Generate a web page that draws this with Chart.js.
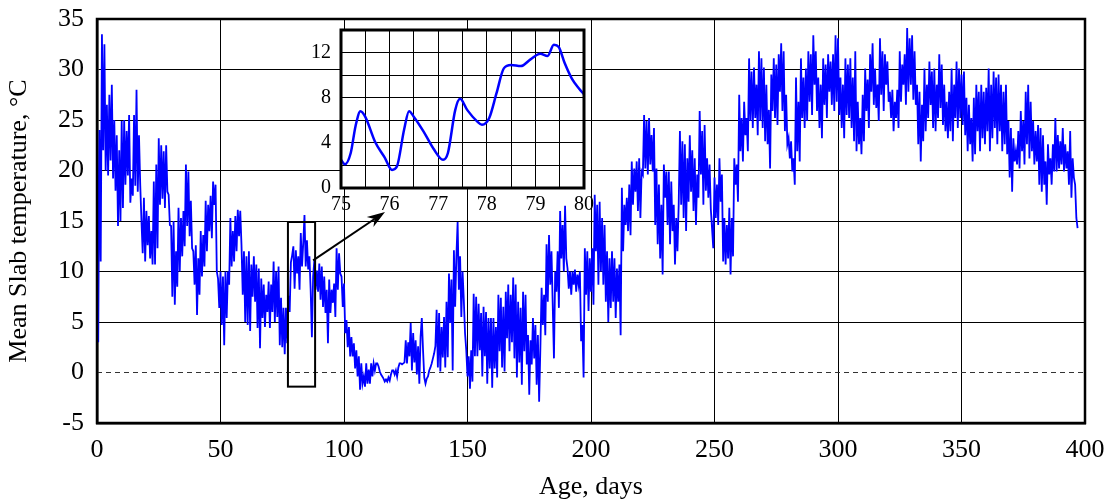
<!DOCTYPE html>
<html>
<head>
<meta charset="utf-8">
<script src="https://cdn.jsdelivr.net/npm/chart.js@4.4.1/dist/chart.umd.min.js"></script>
<style>
  html, body { margin: 0; padding: 0; background: #fff; }
  #wrap { position: relative; width: 1104px; height: 503px; }
  #main { position: absolute; left: 0; top: 0; }
  #inset { position: absolute; left: 290px; top: 24px; }
</style>
</head>
<body>
<div id="wrap">
  <canvas id="main" width="1104" height="503"></canvas>
  <canvas id="inset" width="310" height="200"></canvas>
</div>
<script>
// mean slab temperature, one reading every half day from day 0
var startDay = 0;
var sampleStep = 0.5;
var tempC = [
  27, 3, 24, 11, 33.5, 22, 32.5, 20, 26.5, 19.5,
  27.5, 21, 28.5, 19.2, 25, 18, 23.5, 14.5, 22, 15,
  24.9, 16.3, 25, 18.6, 23.9, 19.5, 25.5, 16.8, 19.2, 17.5,
  25.5, 18.5, 28, 17.9, 23.5, 18.6, 15, 11.8, 17.3, 11,
  16, 12.6, 15.5, 11.3, 14, 10.7, 18.9, 10.7, 20.6, 12.3,
  23.2, 16.6, 22.5, 17.2, 21.9, 16.3, 22.5, 17.9, 17.6, 14.6,
  14.5, 7.5, 15, 6.7, 12, 8.5, 16.3, 10, 15.3, 11.5,
  16, 12.5, 20.6, 14.5, 19.9, 13.5, 17, 12.3, 12, 8.7,
  12.6, 5.7, 11.3, 7.7, 14, 9.5, 13.6, 10.5, 17, 12,
  16.6, 14, 17.5, 13.3, 18.9, 16.6, 18.6, 10, 9.3, 6.4,
  10, 4.7, 9.5, 2.7, 10, 5.4, 10, 8.7, 15.3, 10.5,
  14, 11, 15.5, 12, 16.1, 13.5, 16, 12.6, 7.7, 12,
  5, 11.5, 4.7, 12, 4.1, 10.7, 7.5, 11.5, 7, 10.7,
  4.4, 10.3, 2.4, 9.3, 5.4, 8.7, 4.5, 7.7, 6, 9,
  4.4, 8.7, 6, 11, 5, 10, 5.5, 10.5, 2.7, 7.4,
  2.5, 6.4, 1.8, 6.4, 2.9, 7.6, 6, 10.9, 11.6, 12.5,
  8.3, 12.1, 9.8, 11.5, 8.2, 13.8, 10.5, 12.8, 15.6, 10.5,
  13.1, 10.2, 11.5, 8.2, 3.5, 9.5, 11.1, 8.2, 10.1, 8,
  10.8, 7.2, 10.5, 6.5, 9.5, 5.9, 8.2, 2.9, 9.2, 5.9,
  8.2, 6.9, 8.8, 5.5, 12.3, 8.2, 11.8, 9.8, 9.5, 6.5,
  8.8, 3.9, 5.2, 2.5, 4.5, 1.6, 3.5, 1.6, 2.9, 0.4,
  2.2, -0.4, 1.6, -1.7, 0.9, -1.1, -0.4, -1.4, 0.9, -1.1,
  0.3, -1.1, 0.9, -0.4, 0.9, 0.2, 0.9, 0.9, 0.6, 0.1,
  -0.2, -0.4, -0.6, -0.9, -0.7, -0.9, -0.5, -0.8, -0.2, 0.2,
  0.2, -0.2, 0.2, -0.4, 0.5, 0.9, 0.9, 0.8, 0.9, 1.0,
  3.2, 0.9, 3.0, 1.6, 4.9, 0.2, 3.9, 1.0, 3.2, -0.2,
  2.6, -1.1, 3.5, 5.4, 2.2, -0.5, -1.1, -0.6, -0.4, 0.2,
  0.5, 0.9, 1.4, 1.9, 2.6, 6.2, 0.5, 5.9, 0.1, 4.5,
  1.5, 5.5, 0.5, 7.0, 1.5, 9.8, 4.9, 9.2, 0.2, 12.1,
  6.5, 11.5, 14.9, 8.2, 11.5, 5.5, 10.0, 7.2, 3.9, 2.2,
  -0.4, 1.6, -1.6, 2.2, -0.9, 7.8, 1.6, 7.5, 1.6, 6.8,
  2.2, 5.9, -0.4, 6.5, 1.6, 6.0, -1.1, 5.4, 0.4, 5.4,
  -1.5, 5.4, 0.4, 4.5, -0.5, 7.7, 2.1, 7.4, 0.5, 6.5,
  0.1, 8.0, 3.4, 8.7, 2.1, 7.7, 3.0, 9.4, 1.4, 8.7,
  -0.5, 7.0, 1.0, 6.4, -1.2, 8.0, 2.1, 7.7, 0.8, 3.7,
  -2.2, 3.2, 0.8, 5.4, 1.4, 4.7, -1.2, 3.7, -2.9, 2.4,
  8.4, 4.7, 7.7, 3.7, 12.7, 7.0, 13.6, 8.7, 12.0, 6.7,
  1.4, 10.0, 8.0, 12.0, 6.4, 16.0, 11.3, 14.6, 10.0, 16.5,
  11.3, 10.3, 8.3, 10.0, 7.7, 10.0, 8.7, 10.2, 8.0, 9.7,
  8.7, 10.0, 3.1, 4.7, -0.5, 12.3, 7.7, 12.0, 6.1, 11.3,
  8.0, 12.3, 6.7, 17.6, 12.0, 16.6, 8.7, 16.9, 10.0, 15.3,
  8.7, 14.6, 7.0, 12.0, 5.0, 11.3, 6.4, 12.0, 7.0, 11.3,
  5.4, 10.3, 7.0, 10.7, 3.7, 18.3, 12.0, 16.6, 14.6, 17.3,
  14.0, 18.6, 13.6, 20.9, 16.6, 20.2, 17.9, 20.9, 16.0, 21.2,
  15.3, 19.9, 19.6, 25.5, 20.2, 24.9, 19.6, 25.2, 20.6, 23.5,
  19.9, 24.2, 14.6, 20.2, 12.7, 18.6, 11.3, 16.6, 9.7, 20.6,
  17.3, 19.9, 14.6, 19.9, 12.7, 18.9, 14.0, 16.6, 10.7, 15.3,
  12.0, 16.6, 23.9, 16.6, 22.9, 15.3, 22.6, 14.0, 21.2, 16.9,
  23.5, 17.9, 22.0, 16.0, 21.2, 14.6, 19.6, 17.3, 25.9, 19.6,
  23.9, 16.6, 24.5, 18.0, 21.2, 17.3, 20.6, 16.2, 14.3, 12.3,
  19.3, 15.3, 18.6, 14.6, 21.2, 16.9, 19.6, 11.0, 15.3, 10.7,
  14.6, 11.3, 16.3, 9.7, 15.3, 11.5, 21.2, 18.6, 20.6, 16.9,
  27.5, 21.9, 25.2, 20.9, 26.8, 23.5, 25.2, 21.9, 31.1, 24.9,
  29.8, 24.2, 30.2, 25.2, 28.5, 23.5, 31.8, 24.9, 31.1, 24.2,
  30.2, 22.9, 28.5, 22.6, 26.0, 20.2, 29.5, 25.9, 31.1, 25.2,
  30.5, 24.5, 31.5, 27.8, 32.6, 25.9, 31.8, 23.9, 27.5, 22.6,
  23.2, 21.2, 22.9, 19.9, 21.2, 18.6, 29.2, 21.9, 26.8, 20.9,
  31.1, 25.2, 29.2, 24.2, 30.1, 24.9, 31.8, 26.8, 31.5, 25.5,
  33.4, 28.5, 31.8, 25.9, 29.2, 24.2, 28.5, 23.2, 31.1, 26.5,
  30.5, 25.2, 31.5, 27.8, 30.8, 26.5, 31.5, 25.9, 33.4, 26.8,
  33.1, 25.5, 29.2, 24.2, 28.5, 23.2, 31.1, 25.5, 30.5, 25.2,
  31.1, 24.2, 29.2, 22.9, 31.8, 21.9, 26.8, 22.6, 25.2, 21.6,
  27.5, 22.9, 30.1, 25.9, 29.0, 24.2, 31.5, 27.8, 32.6, 26.5,
  30.1, 26.2, 28.5, 24.9, 33.1, 27.5, 31.8, 25.9, 31.5, 28.5,
  30.8, 26.8, 27.8, 25.2, 28.0, 23.9, 26.8, 25.2, 28.0, 24.2,
  31.8, 26.8, 30.5, 28.5, 31.5, 26.5, 34.1, 27.8, 33.1, 28.5,
  33.4, 27.0, 31.8, 26.5, 28.5, 22.6, 27.8, 20.9, 26.5, 22.9,
  30.1, 23.9, 28.5, 25.2, 30.8, 26.5, 29.8, 24.2, 30.1, 23.9,
  28.5, 25.2, 31.5, 26.2, 30.5, 24.5, 28.5, 23.9, 26.8, 23.2,
  27.8, 23.9, 30.1, 22.9, 28.5, 25.2, 30.8, 24.2, 30.1, 25.2,
  29.5, 24.5, 29.8, 23.5, 27.2, 21.9, 26.5, 22.6, 25.2, 20.9,
  27.2, 21.6, 28.5, 23.9, 27.8, 21.9, 28.5, 23.2, 27.8, 22.6,
  28.2, 23.9, 30.1, 21.9, 28.5, 23.2, 29.8, 24.2, 29.2, 22.6,
  29.5, 23.9, 28.5, 21.9, 27.8, 22.6, 28.5, 21.6, 24.9, 19.3,
  24.2, 17.9, 23.2, 20.9, 21.9, 20.6, 23.9, 20.2, 25.9, 21.9,
  24.9, 20.6, 27.8, 22.6, 28.5, 21.2, 26.8, 21.9, 24.9, 20.6,
  23.9, 20.9, 24.5, 18.6, 24.2, 17.9, 23.5, 18.6, 20.9, 16.6,
  22.6, 19.6, 21.2, 18.6, 22.6, 19.9, 25.2, 19.9, 23.5, 20.2,
  22.9, 20.6, 24.2, 19.9, 22.6, 20.2, 21.9, 18.6, 23.9, 17.3,
  21.2, 19.3, 18.6, 15.3, 14.3
];

// zoomed detail, days 75 - 80
var insetDays  = [75, 75.08, 75.2, 75.3, 75.4, 75.5, 75.7, 75.9, 76.05, 76.15, 76.3, 76.4, 76.5, 76.7, 76.9, 77.1, 77.2, 77.35, 77.45, 77.6, 77.8, 77.9, 78.05, 78.2, 78.35, 78.5, 78.7, 78.9, 79.1, 79.25, 79.38, 79.48, 79.6, 79.75, 79.9, 80];
var insetTemps = [2.5, 2.1, 3.1, 5.5, 6.8, 6.3, 4.1, 2.7, 1.6, 1.9, 5.2, 6.8, 6.3, 5.0, 3.5, 2.5, 3.1, 6.9, 7.9, 6.9, 5.9, 5.6, 6.2, 8.4, 10.6, 10.9, 10.8, 11.4, 11.9, 11.7, 12.7, 12.5, 11.1, 9.7, 8.8, 8.3];

// axes
var xMin = 0, xMax = 400, xStep = 50;
var yMin = -5, yMax = 35, yStep = 5;
var insetXMin = 75, insetXMax = 80;
var insetYMin = 0, insetYMax = 14;

// marked window on the main plot and the arrow pointing to the inset (data units)
var zoomBox = { x1: 77.3, x2: 88.3, y1: -1.4, y2: 14.9 };
var arrowFrom = { x: 87.5, y: 11.1 };
var arrowTo = { x: 116.6, y: 15.9 };

var serif = '"Liberation Serif", "Times New Roman", serif';
var blue = 'rgb(0,0,255)';

var mainPoints = tempC.map(function(v, i) {
    return { x: startDay + i * sampleStep, y: v };
});

// keep the plot box where it is, labels may hang over the padding
function noHangX(s) { s.paddingLeft = 0; s.paddingRight = 0; }
function noHangY(s) { s.paddingTop = 0; s.paddingBottom = 0; }

var mainExtras = {
    id: 'mainExtras',
    beforeDatasetsDraw: function(chart) {
        var c = chart.ctx, a = chart.chartArea, y0 = chart.scales.y.getPixelForValue(0);
        c.save();
        c.strokeStyle = '#333';
        c.lineWidth = 1;
        c.setLineDash([5, 4]);
        c.beginPath();
        c.moveTo(a.left, y0);
        c.lineTo(a.right, y0);
        c.stroke();
        c.restore();
    },
    afterDatasetsDraw: function(chart) {
        var c = chart.ctx, a = chart.chartArea, sx = chart.scales.x, sy = chart.scales.y;
        c.save();
        c.strokeStyle = '#000';
        c.lineWidth = 2.5;
        c.strokeRect(a.left, a.top, a.right - a.left, a.bottom - a.top);
        // window rectangle
        var bx1 = sx.getPixelForValue(zoomBox.x1), bx2 = sx.getPixelForValue(zoomBox.x2);
        var by1 = sy.getPixelForValue(zoomBox.y1), by2 = sy.getPixelForValue(zoomBox.y2);
        c.lineWidth = 2;
        c.strokeRect(bx1, by2, bx2 - bx1, by1 - by2);
        // arrow
        var ax = sx.getPixelForValue(arrowFrom.x), ay = sy.getPixelForValue(arrowFrom.y);
        var tx = sx.getPixelForValue(arrowTo.x), ty = sy.getPixelForValue(arrowTo.y);
        var ang = Math.atan2(ty - ay, tx - ax);
        var hl = 18, hw = 6;
        c.lineWidth = 2;
        c.beginPath();
        c.moveTo(ax, ay);
        c.lineTo(tx - Math.cos(ang) * hl * 0.7, ty - Math.sin(ang) * hl * 0.7);
        c.stroke();
        c.fillStyle = '#000';
        c.beginPath();
        c.moveTo(tx, ty);
        c.lineTo(tx - Math.cos(ang) * hl - Math.sin(ang) * hw, ty - Math.sin(ang) * hl + Math.cos(ang) * hw);
        c.lineTo(tx - Math.cos(ang) * hl * 0.7, ty - Math.sin(ang) * hl * 0.7);
        c.lineTo(tx - Math.cos(ang) * hl + Math.sin(ang) * hw, ty - Math.sin(ang) * hl - Math.cos(ang) * hw);
        c.closePath();
        c.fill();
        c.restore();
    }
};

new Chart(document.getElementById('main'), {
    type: 'line',
    data: {
        datasets: [{
            data: mainPoints,
            borderColor: blue,
            borderWidth: 1.8,
            pointRadius: 0,
            tension: 0,
            fill: false
        }]
    },
    options: {
        responsive: false,
        animation: false,
        events: [],
        layout: { padding: { left: 0, top: 19, right: 19, bottom: 0 } },
        plugins: { legend: { display: false }, tooltip: { enabled: false } },
        scales: {
            x: {
                type: 'linear',
                min: xMin,
                max: xMax,
                ticks: { stepSize: xStep, color: '#000', font: { family: serif, size: 26 }, padding: 12, maxRotation: 0 },
                grid: { color: '#000', lineWidth: 1, drawTicks: false },
                border: { color: '#000', width: 2.5 },
                title: { display: true, text: 'Age, days', color: '#000', font: { family: serif, size: 26 }, padding: { top: 0, bottom: 0 } },
                afterFit: function(s) { s.height = 80; noHangX(s); }
            },
            y: {
                min: yMin,
                max: yMax,
                ticks: { stepSize: yStep, color: '#000', font: { family: serif, size: 26 }, padding: 13 },
                grid: {
                    color: function(ctx) { return ctx.tick && ctx.tick.value === 0 ? 'rgba(0,0,0,0)' : '#000'; },
                    lineWidth: 1,
                    drawTicks: false
                },
                border: { color: '#000', width: 2.5 },
                title: { display: true, text: 'Mean Slab temperature, \u00B0C', color: '#000', font: { family: serif, size: 26 }, padding: { top: 4, bottom: 0 } },
                afterFit: function(s) { s.width = 97; noHangY(s); }
            }
        }
    },
    plugins: [mainExtras]
});

var insetExtras = {
    id: 'insetExtras',
    beforeDraw: function(chart) {
        var c = chart.ctx, a = chart.chartArea;
        c.save();
        c.fillStyle = '#fff';
        c.fillRect(a.left, a.top, a.right - a.left, a.bottom - a.top);
        c.restore();
    },
    afterDatasetsDraw: function(chart) {
        var c = chart.ctx, a = chart.chartArea;
        c.save();
        c.strokeStyle = '#000';
        c.lineWidth = 3;
        c.strokeRect(a.left, a.top, a.right - a.left, a.bottom - a.top);
        c.restore();
    }
};

new Chart(document.getElementById('inset'), {
    type: 'line',
    data: {
        datasets: [{
            data: insetDays.map(function(d, i) { return { x: d, y: insetTemps[i] }; }),
            borderColor: blue,
            borderWidth: 2.5,
            pointRadius: 0,
            cubicInterpolationMode: 'monotone',
            fill: false
        }]
    },
    options: {
        responsive: false,
        animation: false,
        events: [],
        layout: { padding: { left: 0, top: 6, right: 16, bottom: 0 } },
        plugins: { legend: { display: false }, tooltip: { enabled: false } },
        scales: {
            x: {
                type: 'linear',
                min: insetXMin,
                max: insetXMax,
                ticks: {
                    stepSize: 0.5, autoSkip: false, maxRotation: 0, color: '#000', padding: 5,
                    font: { family: serif, size: 20 },
                    callback: function(v) { return Number.isInteger(v) ? v : ''; }
                },
                grid: { color: '#000', lineWidth: 1, drawTicks: false },
                border: { display: false },
                afterFit: function(s) { s.height = 36; noHangX(s); }
            },
            y: {
                min: insetYMin,
                max: insetYMax,
                ticks: {
                    stepSize: 2, autoSkip: false, color: '#000', padding: 10,
                    font: { family: serif, size: 20 },
                    callback: function(v) { return v % 4 === 0 ? v : ''; }
                },
                grid: { color: '#000', lineWidth: 1, drawTicks: false },
                border: { display: false },
                afterFit: function(s) { s.width = 51; noHangY(s); }
            }
        }
    },
    plugins: [insetExtras]
});
</script>
</body>
</html>
